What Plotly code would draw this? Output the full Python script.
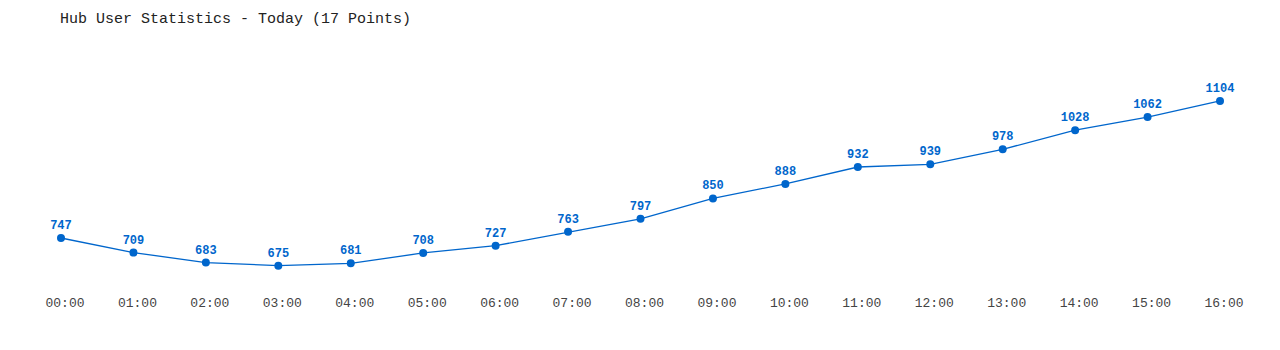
import plotly.graph_objects as go

hours = ["00:00", "01:00", "02:00", "03:00", "04:00", "05:00", "06:00", "07:00", "08:00",
         "09:00", "10:00", "11:00", "12:00", "13:00", "14:00", "15:00", "16:00"]
users = [747, 709, 683, 675, 681, 708, 727, 763, 797, 850, 888, 932, 939, 978, 1028, 1062, 1104]

xs = list(range(len(hours)))
color = "#0066cc"
mono = "Liberation Mono, DejaVu Sans Mono, monospace"

fig = go.Figure(go.Scatter(
    x=xs, y=users, mode="lines+markers+text",
    line=dict(color=color, width=1.3),
    marker=dict(color=color, size=8),
    text=[str(v) for v in users], textposition="top center",
    textfont=dict(family=mono, size=12, color=color, weight="bold"),
    hoverinfo="skip",
))

fig.update_layout(
    width=1280, height=350,
    margin=dict(l=0, r=0, t=40, b=60),
    paper_bgcolor="white", plot_bgcolor="white",
    showlegend=False,
    title=dict(text="Hub User Statistics - Today (17 Points)", x=60/1280, xanchor="left",
               y=1 - 18/350, yanchor="middle",
               font=dict(family=mono, size=15, color="#222")),
    xaxis=dict(range=[-0.842, 16.828], tickvals=xs, ticktext=hours, showgrid=False,
               zeroline=False, showline=False, ticks="",
               ticklabelshift=4, ticklabelstandoff=3,
               tickfont=dict(family=mono, size=13, color="#444")),
    yaxis=dict(range=[611.5, 1262.9], visible=False, showgrid=False),
)

fig.write_html("out.html")
